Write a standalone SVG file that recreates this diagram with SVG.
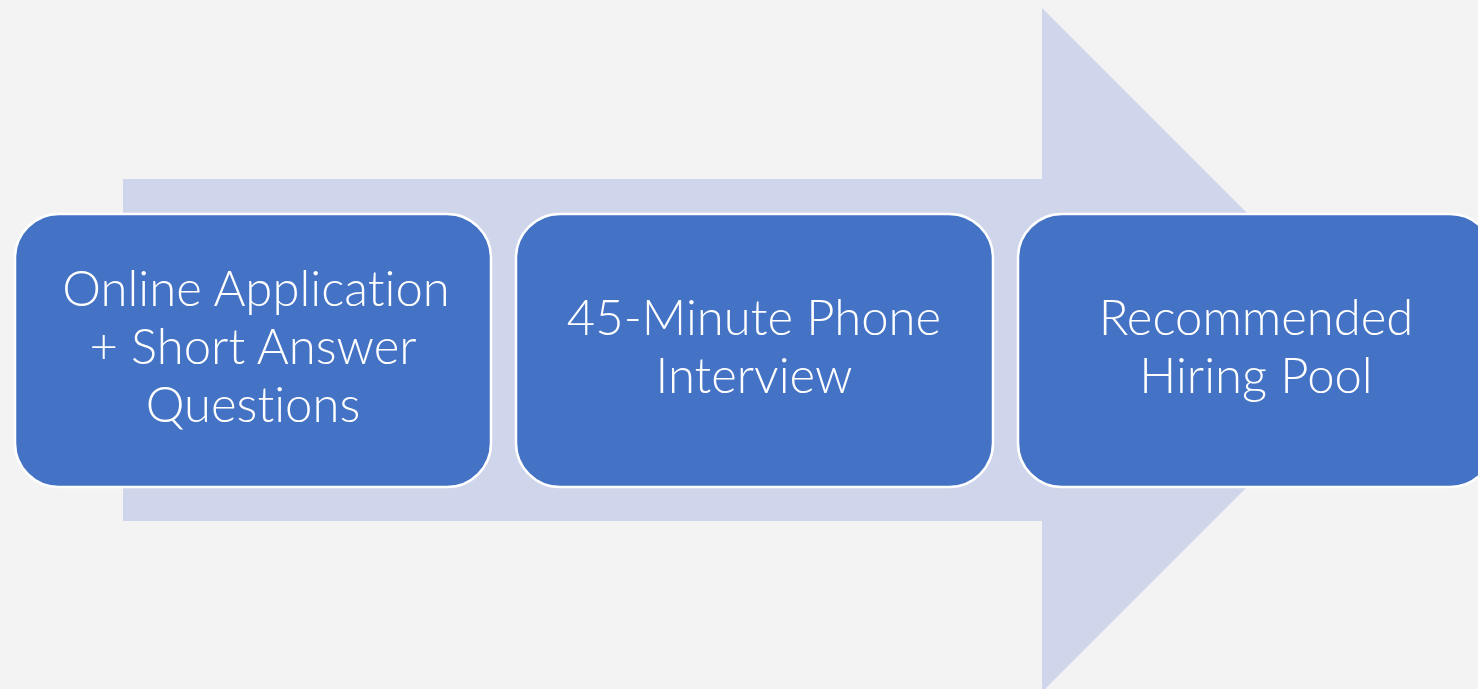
<svg xmlns="http://www.w3.org/2000/svg" width="1478" height="689" viewBox="0 0 1478 689">
<style>
.box{fill:#4472c4;stroke:#ffffff;stroke-width:2.5}
.lbl{fill:#ffffff;font-family:Lato,"Open Sans","Liberation Sans",sans-serif;font-weight:300;font-size:49px;text-anchor:middle;font-variant-ligatures:none}
</style>
<rect x="0" y="0" width="1478" height="689" fill="#f3f3f3"/>
<g id="connectors">
<polygon points="123,179 1042,179 1042,8 1384,350 1042,692 1042,521 123,521" fill="#cfd5ea"/>
</g>
<g id="node1">
<rect class="box" x="15" y="214" width="476" height="273" rx="44"/>
<text class="lbl" x="256" y="306">Online Application</text>
<text class="lbl" x="253" y="364">+ Short Answer</text>
<text class="lbl" x="253" y="422">Questions</text>
</g>
<g id="node2">
<rect class="box" x="516" y="214" width="477" height="273" rx="44"/>
<text class="lbl" x="754" y="335">45-Minute Phone</text>
<text class="lbl" x="754" y="393">Interview</text>
</g>
<g id="node3">
<rect class="box" x="1018" y="214" width="476" height="273" rx="44"/>
<text class="lbl" x="1256" y="335">Recommended</text>
<text class="lbl" x="1256" y="393">Hiring Pool</text>
</g>
</svg>
